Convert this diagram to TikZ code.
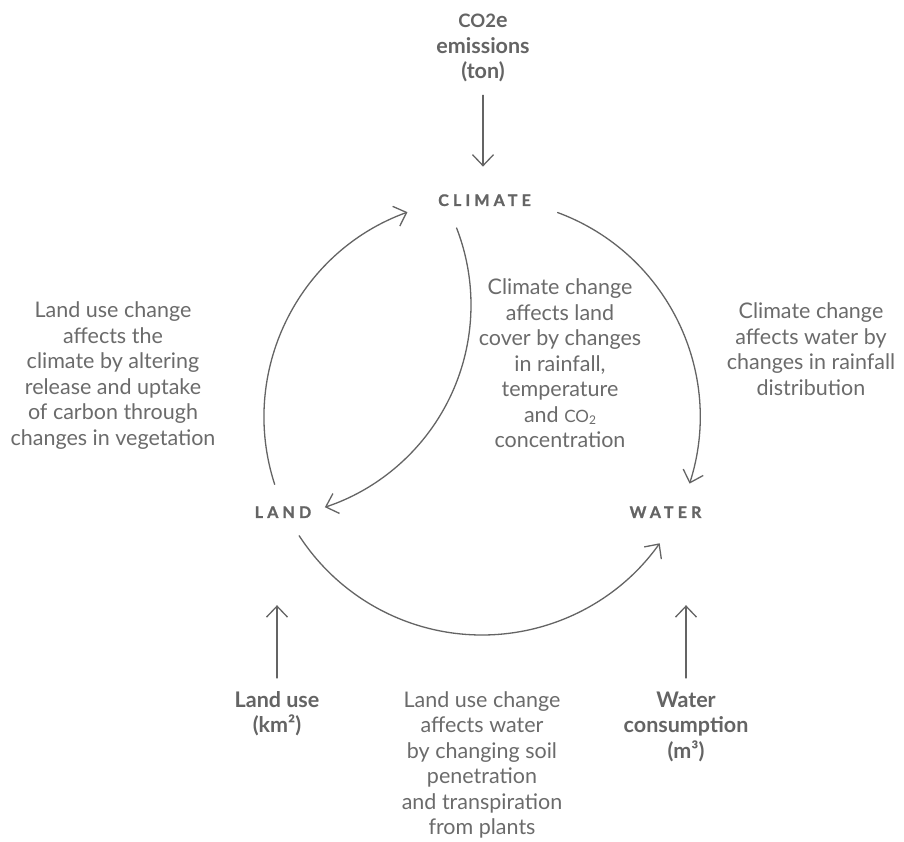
\documentclass[tikz,border=0pt]{standalone}
\usepackage{fontspec}
\setmainfont{Lato}
\newfontfamily\capsfont{Lato}[LetterSpace=26, BoldFeatures={FakeBold=1.2}]
\usetikzlibrary{arrows.meta,calc}
\definecolor{txt}{HTML}{6B6B6B}
\definecolor{ln}{HTML}{646464}
\newcommand{\smc}[1]{{\fontsize{17}{18}\selectfont #1}}
\newcommand{\smcb}[1]{{\fontsize{18.5}{18}\selectfont #1}}
\newcommand{\subtwo}{\raisebox{-2pt}{\fontsize{12}{12}\selectfont 2}}
\newcommand{\lines}[1]{\begin{tabular}[t]{@{}c@{}}#1\end{tabular}}
\tikzset{
  lbl/.style={anchor=base, inner sep=0pt, text=txt,
    font=\fontsize{21.5}{25.5}\selectfont},
  blbl/.style={lbl, text=ln, font=\fontsize{21.5}{25.5}\selectfont\bfseries},
  hub/.style={anchor=base, inner sep=0pt, text=ln,
    font=\capsfont\bfseries\fontsize{16}{18}\selectfont},
  conn/.style={draw=ln, line width=1.3pt, line cap=round,
    -{Straight Barb[length=11pt,width=21pt,line width=1.3pt]}}
}
\begin{document}
\begin{tikzpicture}[x=1pt,y=1pt]
\useasboundingbox[fill=white] (0,0) rectangle (904,841);
% hubs
\node[hub] (climate) at (484.5,635) {CLIMATE};
\node[hub] (land) at (283,323) {LAND};
\node[hub] (water) at (665.5,323) {WATER};
% bold labels
\node[blbl] (co2) at (483,813) {\lines{\smcb{CO2}e\\emissions\\(ton)}};
\node[blbl] (landuse) at (277,134) {\lines{Land use\\(km²)}};
\node[blbl] (waterc) at (686,134) {\lines{Water\\consumption\\(m³)}};
% descriptive labels
\node[lbl] (tl) at (113,523) {\lines{Land use change\\affects the\\climate by altering\\release and uptake\\of carbon through\\changes in vegetation}};
\node[lbl] (tm) at (560,546) {\lines{Climate change\\affects land\\cover by changes\\in rainfall,\\temperature\\and \smc{CO}\subtwo\\concentration}};
\node[lbl] (tr) at (811,522) {\lines{Climate change\\affects water by\\changes in rainfall\\distribution}};
\node[lbl] (tb) at (482,134) {\lines{Land use change\\affects water\\by changing soil\\penetration\\and transpiration\\from plants}};
% circle points
\coordinate (c0) at (482,424);
\coordinate (c1) at (258,536);
\coordinate (pl) at ($(c0)+(198:218pt)$);
\coordinate (pr) at ($(c0)+(69.7:218pt)$);
\coordinate (pb) at ($(c0)+(213:218pt)$);
\coordinate (pi) at ($(c1)+(21.2:213pt)$);
% arcs
\draw[conn] (pl) arc[start angle=198, end angle=110, radius=218pt];
\draw[conn] (pr) arc[start angle=69.7, end angle=-17.8, radius=218pt];
\draw[conn] (pb) arc[start angle=213, end angle=324.6, radius=218pt];
\draw[conn] (pi) arc[start angle=21.2, end angle=-71.7, radius=213pt];
% straight arrows
\draw[conn, shorten <=8.4pt, shorten >=27.5pt] (co2.south) -- (co2.south |- climate.north);
\draw[conn, shorten <=11pt, shorten >=87pt] (landuse.north) -- (landuse.north |- land.south);
\draw[conn, shorten <=11pt, shorten >=87pt] (waterc.north) -- (waterc.north |- water.south);
\end{tikzpicture}
\end{document}
